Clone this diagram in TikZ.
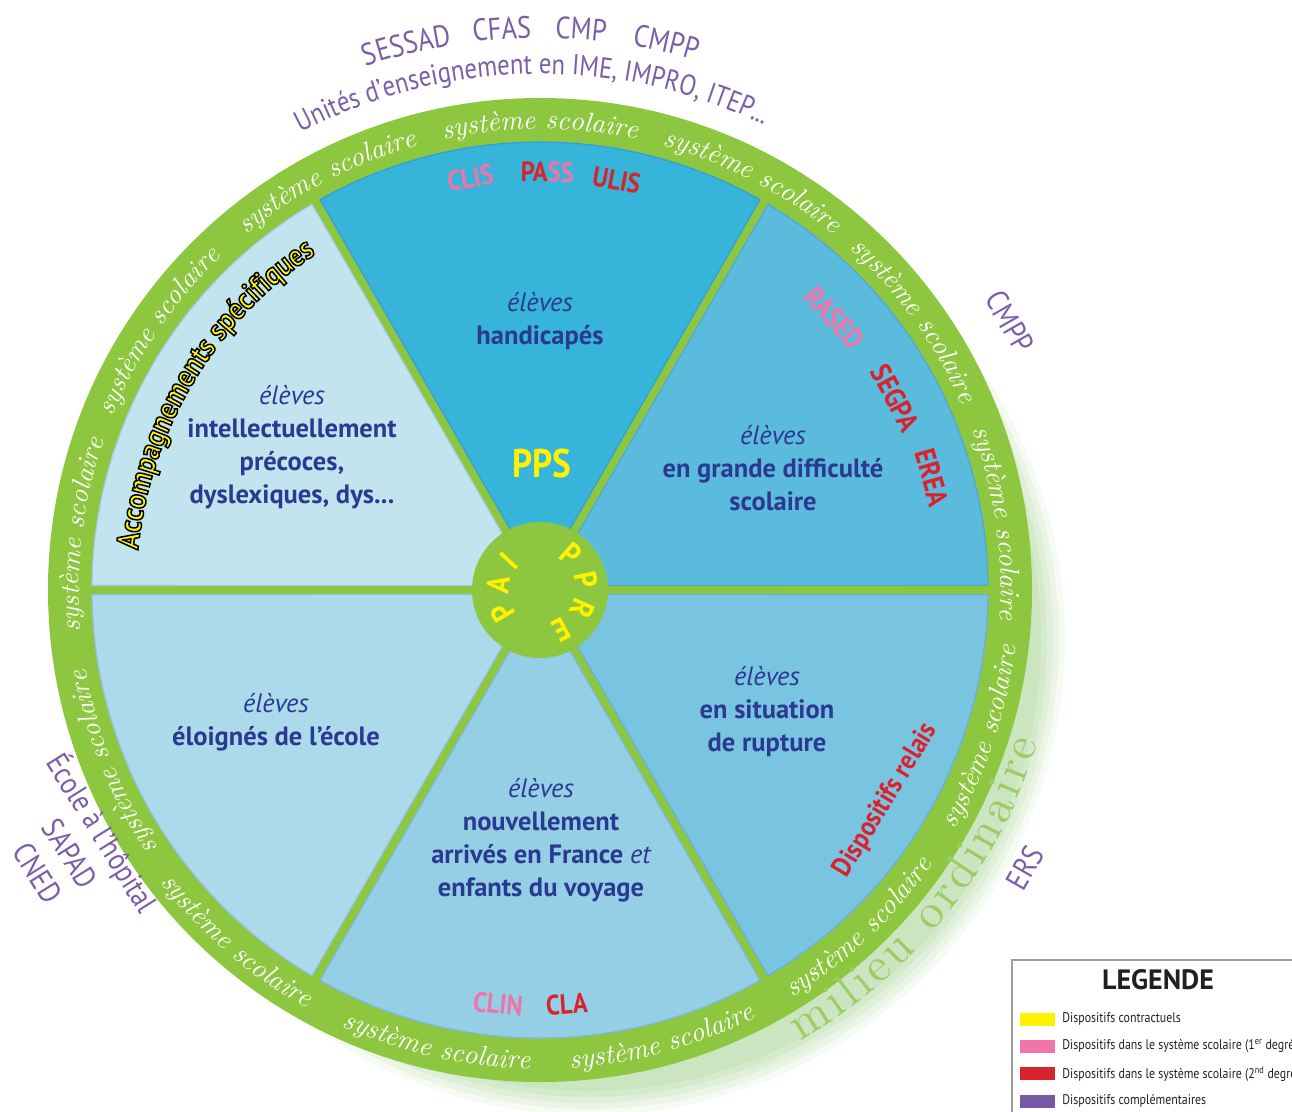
\documentclass[tikz,border=0pt]{standalone}
\usepackage{fontspec}
\setmainfont{PT Sans}
\newfontfamily\condfont{PT Sans}[FakeStretch=0.85]
\newfontfamily\acrofont{PT Sans}[FakeStretch=0.88]
\newfontfamily\lmfont{lmroman10-regular.otf}[ItalicFont=lmroman10-italic.otf]
\usepackage{tikz}
\usetikzlibrary{decorations.text,positioning}

\definecolor{ringgreen}{HTML}{8DC63F}
\definecolor{halogreen}{HTML}{CBE5C1}
\definecolor{milgreen}{HTML}{9CCC65}
\definecolor{secA}{HTML}{36B4D9}
\definecolor{secB}{HTML}{5BBBDC}
\definecolor{secC}{HTML}{79C5E1}
\definecolor{secD}{HTML}{94CFE5}
\definecolor{secE}{HTML}{ACDAEA}
\definecolor{secF}{HTML}{C1E4EF}
\definecolor{navy}{HTML}{2B3990}
\definecolor{ppsyellow}{HTML}{FFF200}
\definecolor{pinkc}{HTML}{F074AA}
\definecolor{redc}{HTML}{D8232E}
\definecolor{purp}{HTML}{7B5EA7}
\definecolor{purpsw}{HTML}{7857A4}
\definecolor{leggray}{HTML}{9D9D9D}
\definecolor{legtext}{HTML}{231F20}

\newcommand\ringfont{\lmfont\itshape\fontsize{27.5}{27.5}\selectfont}
\newcommand\milfont{\lmfont\fontsize{48}{48}\selectfont}
\newcommand\purpfont{\condfont\fontsize{31}{38}\selectfont}
\newcommand\unitfont{\condfont\fontsize{29}{29}\selectfont}
\newcommand\secfont{\fontsize{26.5}{33}\selectfont}
\newcommand\acrfont[1]{\acrofont\bfseries\fontsize{#1}{#1}\selectfont}
\newcommand\elv{{\mdseries\itshape élèves}}
\newcommand\outlinetxt{\special{pdf:literal direct 2 Tr 1.5 w 0 0 0 RG}}

\begin{document}
\begin{tikzpicture}[x=1pt, y=1pt,
	sector/.style={fill=#1, draw=#1!88!blue, line width=1.2pt},
	acro/.style={font=\acrfont{#1}, inner sep=0pt},
	halo/.style={fill=halogreen, opacity=#1},
	purplearc/.style={decorate, decoration={text along path, text={|\purpfont|#1}, text align=center, text color=purp}}]

	\tikzstyle{ringtext}=[decorate, decoration={text along path, text={|\ringfont|système scolaire}, text align=center, text color=white}]
	\tikzstyle{eleves}=[align=center, text=navy, font=\secfont\bfseries]
	\tikzstyle{hubletter}=[acro=32, text=ppsyellow]
	\tikzstyle{purpnode}=[font=\purpfont, text=purp, inner sep=0pt]
	\tikzstyle{swatch}=[minimum width=35pt, minimum height=13pt, inner sep=0pt]
	\tikzstyle{legitem}=[font=\condfont\fontsize{14}{14}\selectfont, text=legtext, inner sep=0pt]

	\useasboundingbox (-540,-521) rectangle (752,590);

	% milieu ordinaire halo and ring
	\fill[halo=0.2] (49,-49) circle (476pt);
	\fill[halo=0.25] (49,-49) circle (470pt);
	\fill[halo=0.35] (49,-49) circle (464pt);
	\fill[halo=0.5] (49,-49) circle (458pt);
	\fill[halo=1] (49,-49) circle (452pt);
	\fill[ringgreen] (0,0) circle (492pt);

	% the six sectors
	\path[sector=secA] (90:9pt) -- (60.6:448pt) arc (60.6:119.4:448pt) -- cycle;
	\path[sector=secB] (30:9pt) -- (0.6:448pt) arc (0.6:59.4:448pt) -- cycle;
	\path[sector=secC] (-30:9pt) -- (-59.4:448pt) arc (-59.4:-0.6:448pt) -- cycle;
	\path[sector=secD] (-90:9pt) -- (-119.4:448pt) arc (-119.4:-60.6:448pt) -- cycle;
	\path[sector=secE] (-150:9pt) -- (-179.4:448pt) arc (-179.4:-120.6:448pt) -- cycle;
	\path[sector=secF] (150:9pt) -- (120.6:448pt) arc (120.6:179.4:448pt) -- cycle;
	\node[circle, fill=ringgreen, minimum size=136pt, inner sep=0pt] (hub) at (0,0) {};

	% système scolaire, upper part
	\path[ringtext] (105:461pt) arc (105:75:461pt);
	\path[ringtext] (77.5:461pt) arc (77.5:47.5:461pt);
	\path[ringtext] (50.8:461pt) arc (50.8:20.8:461pt);
	\path[ringtext] (23.3:461pt) arc (23.3:-6.7:461pt);
	\path[ringtext] (188.1:461pt) arc (188.1:158.1:461pt);
	\path[ringtext] (160.8:461pt) arc (160.8:130.8:461pt);
	\path[ringtext] (132.5:461pt) arc (132.5:102.5:461pt);
	\path[ringtext] (-143:461pt) arc (-143:-173:461pt);
	% système scolaire, lower part
	\path[ringtext] (-33.4:479pt) arc (-33.4:-3.4:479pt);
	\path[ringtext] (-61.6:479pt) arc (-61.6:-31.6:479pt);
	\path[ringtext] (-89.8:479pt) arc (-89.8:-59.8:479pt);
	\path[ringtext] (-117.8:479pt) arc (-117.8:-87.8:479pt);
	\path[ringtext] (-145.8:479pt) arc (-145.8:-115.8:479pt);

	% sector texts
	\node[eleves] (hand) at (0,269) {\elv\\handicapés};
	\node[eleves] (diff) at (233,122) {\elv\\en grande difficulté\\scolaire};
	\node[eleves] (prec) at (-248,143) {\elv\\intellectuellement\\précoces,\\dyslexiques, dys...};
	\node[eleves] (eloi) at (-264,-132) {\elv\\éloignés de l’école};
	\node[eleves] (nouv) at (1,-250) {\elv\\nouvellement\\arrivés en France {\mdseries\itshape et}\\enfants du voyage};
	\node[eleves] (rupt) at (227,-122) {\elv\\en situation\\de rupture};

	% dispositifs
	\node[acro=40, text=ppsyellow] (pps) at (2,127) {PPS};
	\node[acro=28, text=pinkc, rotate=9.6] (clis) at (99.6:418pt) {CLIS};
	\node[acro=28, rotate=-1] (pass) at (89:418pt) {\textcolor{redc}{PA}\textcolor{pinkc}{SS}};
	\node[acro=28, text=redc, rotate=-10.6] (ulis) at (79.4:417pt) {ULIS};
	\node[acro=29, text=pinkc, rotate=-47.3] (rased) at (42.7:401pt) {RASED};
	\node[acro=29, text=redc, rotate=-61.6] (segpa) at (28.4:404pt) {SEGPA};
	\node[acro=29, text=redc, rotate=-74] (erea) at (16:408pt) {EREA};
	\node[acro=28, text=pinkc, rotate=-5.8] (clin) at (-95.8:416pt) {CLIN};
	\node[acro=28, text=redc, rotate=3.7] (cla) at (-86.3:415pt) {CLA};
	\node[acro=28, text=redc, rotate=58.7] (relais) at (-31.3:405pt) {Dispositifs relais};

	% PAI and PPRE round the hub
	\node[hubletter, rotate=121] (paiP) at (211:44pt) {P};
	\node[hubletter, rotate=83] (paiA) at (173:42pt) {A};
	\node[hubletter, rotate=47] (paiI) at (137:42pt) {I};
	\node[hubletter, rotate=-41] (ppreP) at (49:48pt) {P};
	\node[hubletter, rotate=-78] (ppreQ) at (12:47pt) {P};
	\node[hubletter, rotate=-114] (ppreR) at (-24:46pt) {R};
	\node[hubletter, rotate=-152] (ppreE) at (-62:45pt) {E};

	% dispositifs complementaires
	\path[purplearc=SESSAD] (115.8:552pt) arc (115.8:91.8:552pt);
	\path[purplearc=CFAS] (105.9:552pt) arc (105.9:81.9:552pt);
	\path[purplearc=CMP] (97.8:552pt) arc (97.8:73.8:552pt);
	\path[purplearc=CMPP] (89:552pt) arc (89:65:552pt);
	\path[decorate, decoration={text along path, text={|\unitfont|Unités d’enseignement en IME, IMPRO, ITEP...}, text align=center, text color=purp}] (122:516pt) arc (122:60:516pt);
	\node[purpnode, rotate=-60.3] (cmppr) at (29.7:541pt) {CMPP};
	\node[purpnode, rotate=60.2] (ers) at (-29.8:559pt) {ERS};
	\node[purpnode, rotate=-58, align=center] (hosp) at (-468,-262) {École à l’hôpital\\SAPAD\\CNED};

	% milieu ordinaire
	\path[decorate, decoration={text along path, text={|\milfont|milieu ordinaire}, text align={fit to path}, text color=milgreen}] (-60:521pt) arc (-60:-17:521pt);

	% legend
	\draw[leggray, line width=2.5pt] (472,-600) rectangle (900,-370);
	\node[font=\bfseries\fontsize{28}{28}\selectfont, text=legtext] (legtitle) at (618,-390) {LEGENDE};
	\node[swatch, fill=ppsyellow] (swA) at (497.5,-429) {};
	\node[swatch, fill=pinkc, below=14pt of swA] (swB) {};
	\node[swatch, fill=redc, below=14pt of swB] (swC) {};
	\node[swatch, fill=purpsw, below=14pt of swC] (swD) {};
	\node[legitem, right=7pt of swA] (lgA) {Dispositifs contractuels};
	\node[legitem, right=7pt of swB] (lgB) {Dispositifs dans le système scolaire (1\textsuperscript{er} degré)};
	\node[legitem, right=7pt of swC] (lgC) {Dispositifs dans le système scolaire (2\textsuperscript{nd} degré)};
	\node[legitem, right=7pt of swD] (lgD) {Dispositifs complémentaires};

	% outlined yellow text, kept last
	\path[decorate, decoration={text along path, text={|\acrfont{31}\outlinetxt|Accompagnements spécifiques}, text align=center, text color=ppsyellow}] (182:404pt) arc (182:116:404pt);

\end{tikzpicture}
\end{document}
